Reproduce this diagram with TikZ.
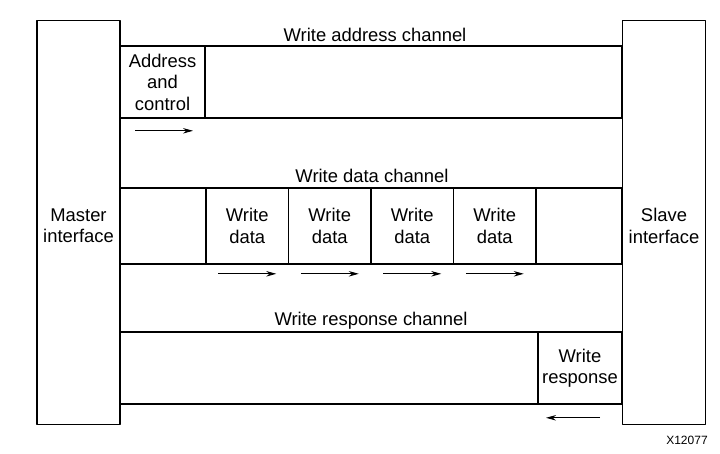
\documentclass[tikz,border=0pt]{standalone}
\usepackage{fontspec}
\setmainfont{Liberation Sans}
\usetikzlibrary{arrows.meta}
\begin{document}
\begin{tikzpicture}[x=1pt, y=-1pt, line join=round, font=\fontsize{18.4}{21.5}\selectfont,
  box/.style={draw, line width=1.6pt, inner sep=0pt, align=center},
  flow/.style={line width=0.9pt, -{Stealth[length=10pt,width=5.5pt]}}]
\useasboundingbox (0,0) rectangle (720,454);
% interfaces
\node[box, minimum width=83pt, minimum height=404pt] (master) at (78.5,222.5) {};
\node[box, minimum width=83pt, minimum height=404pt] (slave) at (664,222.5) {};
% write address channel
\node[box, minimum width=502pt, minimum height=72pt] (addrch) at (371,82) {};
\node (addrlbl) at (375,35) {Write address channel};
\node[box, minimum width=85pt, minimum height=72pt] (addr) at (162.5,82) {Address\\and\\control};
\draw[flow] ([xshift=-27.5pt,yshift=-12pt]addr.south) -- ++(58,0);
% write data channel
\node[box, minimum width=502pt, minimum height=76pt] (datach) at (371,226) {};
\node (datalbl) at (372,176) {Write data channel};
\foreach \i in {1,...,4}{
  \node[box, minimum width=82.5pt, minimum height=76pt] (wd\i) at ({247.25+82.5*(\i-1)},226) {Write\\data};
  \draw[flow] ([xshift=-29pt,yshift=-9pt]wd\i.south) -- ++(58,0);
}
\node[align=center] (masterlbl) at (master.center |- datach.center) {Master\\interface};
\node[align=center] (slavelbl) at (slave.center |- datach.center) {Slave\\interface};
% write response channel
\node[box, minimum width=502pt, minimum height=72pt] (respch) at (371,368) {};
\node (resplbl) at (371,321) {Write response channel};
\node[box, minimum width=84pt, minimum height=72pt] (resp) at (580,368) {Write\\response};
\draw[flow] ([xshift=20pt,yshift=-13pt]resp.south) -- ++(-54,0);
\node[font=\fontsize{12}{14}\selectfont] (fig) at (687,440) {X12077};
\end{tikzpicture}
\end{document}
